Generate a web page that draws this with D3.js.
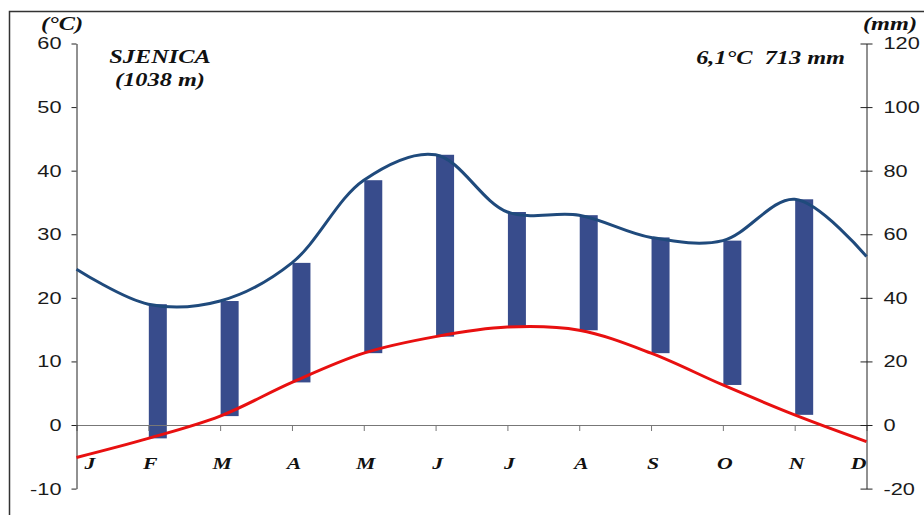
<!DOCTYPE html>
<html>
<head>
<meta charset="utf-8">
<script src="https://cdn.jsdelivr.net/npm/d3@7"></script>
<style>
  html, body { margin: 0; padding: 0; background: #fff; }
  svg { display: block; }
  .tick text { font-family: "Liberation Sans", Arial, sans-serif; font-size: 17px; fill: #1a1a1a; }
  .serif { font-family: "Liberation Serif", "Times New Roman", serif; font-weight: bold; font-style: italic; fill: #111; white-space: pre; }
</style>
</head>
<body>
<script>
// Climate diagram for Sjenica: monthly mean temperature (°C) and precipitation (mm)
const months = ["J", "F", "M", "A", "M", "J", "J", "A", "S", "O", "N", "D"];
const temperature = [-5.1, -2.1, 1.4, 6.7, 11.3, 13.9, 15.4, 14.9, 11.3, 6.3, 1.6, -2.6];
const precipitation = [49, 38, 39, 51, 77, 85, 67, 66, 59, 58, 71, 53];
const tempTicks = [-10, 0, 10, 20, 30, 40, 50, 60];
const precTicks = [-20, 0, 20, 40, 60, 80, 100, 120];
const stationName = "SJENICA";
const stationAltitude = "(1038 m)";
const annualSummary = "6,1°C  713 mm";

const W = 924, H = 515;
const plotLeft = 76.5, plotRight = 866.5, plotTop = 43.5, plotBottom = 488.6;
const stretch = 1.28; // horizontal widening of all lettering

const svg = d3.select("body").append("svg").attr("width", W).attr("height", H);

// outer frame
svg.append("rect")
  .attr("x", 9.5).attr("y", 11.5).attr("width", W + 20).attr("height", H + 20)
  .attr("fill", "none").attr("stroke", "#333").attr("stroke-width", 1.5);

const x = d3.scalePoint().domain(d3.range(months.length)).range([plotLeft, plotRight]);
const yT = d3.scaleLinear().domain([-10, 60]).range([plotBottom, plotTop]);
const yP = d3.scaleLinear().domain([-20, 120]).range([plotBottom, plotTop]);

function widen(sel) {
  sel.each(function () {
    const t = d3.select(this);
    const tx = +t.attr("x") || 0;
    t.attr("x", 0).attr("transform", `translate(${tx},0) scale(${stretch},1)`);
  });
}

// humid-period bars between the temperature and precipitation curves
const barW = 18;
const barIdx = d3.range(1, months.length - 1);
svg.append("g").selectAll("rect").data(barIdx).join("rect")
  .attr("x", i => x(i) + 0.5)
  .attr("width", barW)
  .attr("y", i => yP(precipitation[i]))
  .attr("height", i => yT(temperature[i]) - yP(precipitation[i]))
  .attr("fill", "#384c8c");

// zero line with month ticks
const gx = svg.append("g").attr("transform", `translate(0,${yT(0)})`)
  .call(d3.axisBottom(x).tickSize(6).tickSizeOuter(0).tickFormat(""));
gx.select(".domain").attr("stroke", "#777");
gx.selectAll(".tick line").attr("stroke", "#777");

const plainNumber = d => String(d);

// left temperature axis
const gl = svg.append("g").attr("transform", `translate(${plotLeft},0)`)
  .call(d3.axisLeft(yT).tickValues(tempTicks).tickSize(5).tickSizeOuter(0).tickPadding(10).tickFormat(plainNumber));
gl.select(".domain").attr("stroke", "#222");
gl.selectAll(".tick line").attr("stroke", "#222");
gl.selectAll(".tick text").attr("font-size", null).attr("font-family", null).call(widen);

// right precipitation axis
const gr = svg.append("g").attr("transform", `translate(${plotRight},0)`)
  .call(d3.axisRight(yP).tickValues(precTicks).tickSize(6).tickSizeOuter(0).tickPadding(11).tickFormat(plainNumber));
gr.select(".domain").attr("stroke", "#222");
gr.selectAll(".tick line").attr("stroke", "#222").attr("x1", -6);
gr.selectAll(".tick text").attr("font-size", null).attr("font-family", null).call(widen);

// precipitation and temperature curves
const precLine = d3.line().x((d, i) => x(i)).y(d => yP(d)).curve(d3.curveCatmullRom.alpha(0.5));
const tempLine = d3.line().x((d, i) => x(i)).y(d => yT(d)).curve(d3.curveCatmullRom.alpha(0.5));

svg.append("path").datum(precipitation).attr("d", precLine)
  .attr("fill", "none").attr("stroke", "#1f4a7c").attr("stroke-width", 3);
svg.append("path").datum(temperature).attr("d", tempLine)
  .attr("fill", "none").attr("stroke", "#e81010").attr("stroke-width", 3);

// month labels
svg.append("g").selectAll("text").data(months).join("text")
  .attr("class", "serif")
  .attr("font-size", 17)
  .attr("y", 469)
  .attr("text-anchor", (d, i) => i === 0 ? "start" : i === months.length - 1 ? "end" : "middle")
  .attr("x", (d, i) => i === 0 ? plotLeft + 8 : i === months.length - 1 ? plotRight : x(i) + 2)
  .text(d => d)
  .call(widen);

// captions
function caption(txt, px, py, size, anchor) {
  svg.append("text").attr("class", "serif")
    .attr("font-size", size).attr("text-anchor", anchor)
    .attr("x", px).attr("y", py).text(txt).call(widen);
}
caption("(°C)", 62, 30, 19, "middle");
caption("(mm)", 890, 30, 19, "middle");
caption(stationName, 160, 63, 19, "middle");
caption(stationAltitude, 160, 86, 19, "middle");
caption(annualSummary, 845, 64, 19, "end");
</script>
</body>
</html>
